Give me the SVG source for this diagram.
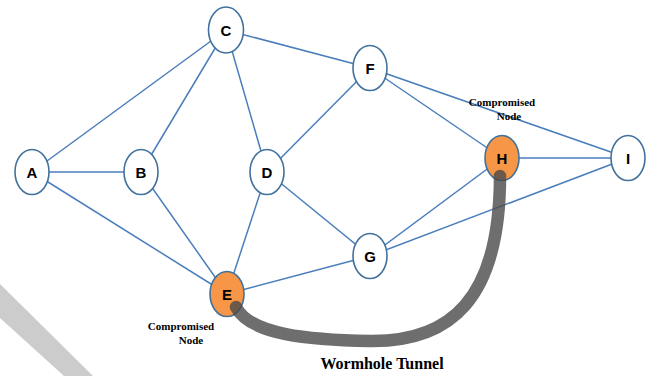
<svg xmlns="http://www.w3.org/2000/svg" width="650" height="376" viewBox="0 0 650 376">
<style>
.edge{stroke:#4a7ebb;stroke-width:1.5;fill:none}
.node{fill:#fff;stroke:#41719c;stroke-width:1.6}
.comp{fill:#f79646;stroke:#41719c;stroke-width:1.6}
.lbl{font-family:"Liberation Sans",Arial,sans-serif;font-weight:bold;font-size:15px;fill:#000;text-anchor:middle}
.cap{font-family:"Liberation Serif","Times New Roman",serif;font-weight:bold;font-size:11px;fill:#000;text-anchor:middle}
</style>
<rect width="650" height="376" fill="#fff"/>
<polygon points="0,284 0,318 64,376 93,376" fill="#cccccc"/>
<g id="connectors">
<line class="edge" x1="32" y1="172" x2="226" y2="30"/>
<line class="edge" x1="32" y1="172" x2="141" y2="172"/>
<line class="edge" x1="32" y1="172" x2="227" y2="294"/>
<line class="edge" x1="141" y1="172" x2="226" y2="30"/>
<line class="edge" x1="141" y1="172" x2="227" y2="294"/>
<line class="edge" x1="226" y1="30" x2="267" y2="172"/>
<line class="edge" x1="226" y1="30" x2="370" y2="68"/>
<line class="edge" x1="267" y1="172" x2="370" y2="68"/>
<line class="edge" x1="267" y1="172" x2="227" y2="294"/>
<line class="edge" x1="267" y1="172" x2="370" y2="256"/>
<line class="edge" x1="227" y1="294" x2="370" y2="256"/>
<line class="edge" x1="370" y1="68" x2="502" y2="158"/>
<line class="edge" x1="370" y1="68" x2="628" y2="158"/>
<line class="edge" x1="370" y1="256" x2="502" y2="158"/>
<line class="edge" x1="370" y1="256" x2="628" y2="158"/>
<line class="edge" x1="502" y1="158" x2="628" y2="158"/>
</g>
<g id="A"><ellipse class="node" cx="32" cy="172" rx="17" ry="22.5"/><text class="lbl" x="32" y="177.5">A</text></g>
<g id="B"><ellipse class="node" cx="141" cy="172" rx="17" ry="22.5"/><text class="lbl" x="141" y="177.5">B</text></g>
<g id="C"><ellipse class="node" cx="226" cy="30" rx="17.5" ry="23"/><text class="lbl" x="226" y="35.5">C</text></g>
<g id="D"><ellipse class="node" cx="267" cy="172" rx="17" ry="22.5"/><text class="lbl" x="267" y="177.5">D</text></g>
<g id="E"><ellipse class="comp" cx="227" cy="294" rx="17" ry="22.5"/><text class="lbl" x="227" y="299.5">E</text></g>
<g id="F"><ellipse class="node" cx="370" cy="68" rx="17" ry="22.5"/><text class="lbl" x="370" y="73.5">F</text></g>
<g id="G"><ellipse class="node" cx="370" cy="256" rx="17" ry="22.5"/><text class="lbl" x="370" y="261.5">G</text></g>
<g id="H"><ellipse class="comp" cx="502" cy="158" rx="17" ry="22.5"/><text class="lbl" x="502" y="163.5">H</text></g>
<g id="I"><ellipse class="node" cx="628" cy="158" rx="17" ry="22.5"/><text class="lbl" x="628" y="163.5">I</text></g>
<g id="wormhole">
<path d="M236,307 C250,335 310,340 370,341 C450,342 500,300 500,176" fill="none" stroke="#4a4a4a" stroke-opacity="0.8" stroke-width="12.5" stroke-linecap="round"/>
</g>
<g id="labels">
<text class="cap" x="502" y="106">Compromised</text>
<text class="cap" x="509" y="120">Node</text>
<text class="cap" x="181" y="330">Compromised</text>
<text class="cap" x="191" y="344">Node</text>
<text x="382" y="369" font-family="'Liberation Serif','Times New Roman',serif" font-weight="bold" font-size="16" text-anchor="middle" fill="#000">Wormhole Tunnel</text>
</g>
</svg>
